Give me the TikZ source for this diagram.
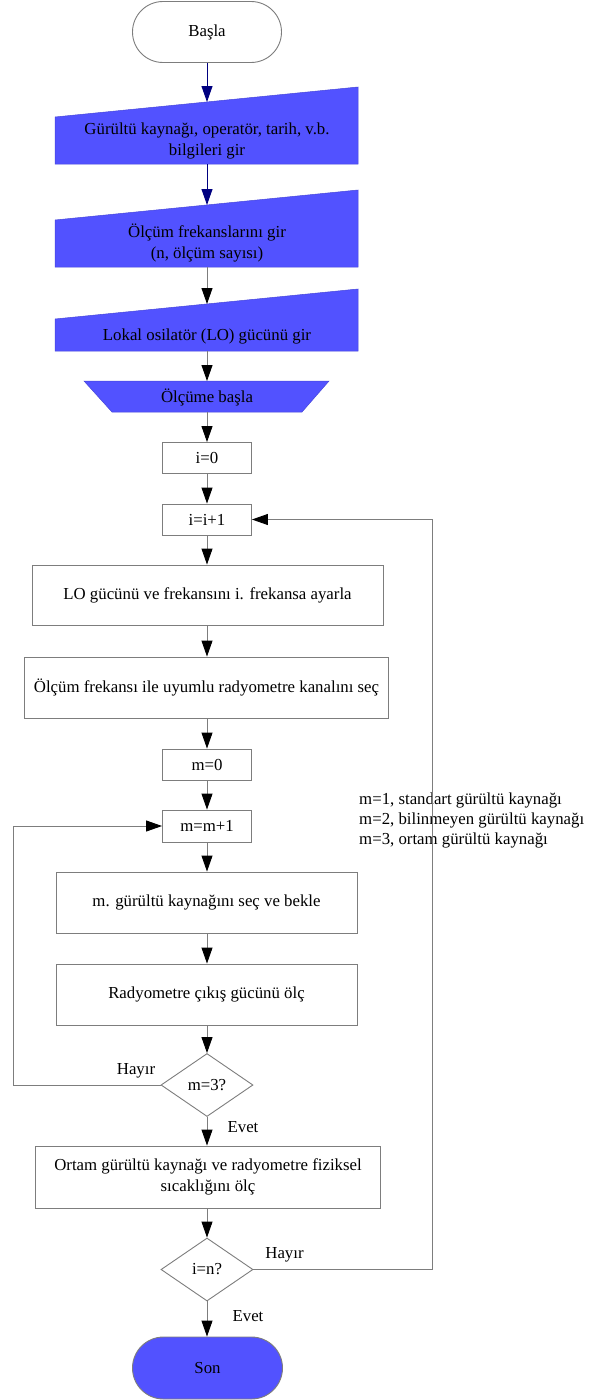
\documentclass[tikz,border=0pt]{standalone}
\usepackage{fontspec}
\setmainfont{Liberation Serif}
\usetikzlibrary{shapes.geometric,shapes.misc,arrows.meta}
\definecolor{flowblue}{RGB}{82,82,255}
\definecolor{edgegray}{RGB}{125,125,125}
\definecolor{darknavy}{RGB}{0,0,128}

\begin{document}
\begin{tikzpicture}[x=1pt,y=-1pt,
  every node/.style={font=\fontsize{16.8}{21}\selectfont, inner sep=0pt, align=center},
  proc/.style={rectangle, draw=edgegray, line width=0.9pt, fill=white},
  term/.style={rounded rectangle, draw=edgegray, line width=0.9pt,
               minimum width=149pt, minimum height=61pt},
  decide/.style={diamond, draw=edgegray, line width=0.9pt, fill=white,
                 minimum width=92pt, minimum height=63pt},
  ioshape/.style={fill=flowblue, draw=flowblue!85!black, line width=0.5pt},
  flow/.style={draw=edgegray, line width=0.9pt,
               -{Triangle[length=16pt,width=11pt,color=black]}},
  navyflow/.style={draw=darknavy, line width=0.9pt,
                   -{Triangle[length=16pt,width=11pt,color=darknavy]}},
  loopline/.style={draw=edgegray, line width=0.9pt,
                   -{Triangle[length=16pt,width=11pt,color=black]}},
  note/.style={anchor=west, align=left, font=\fontsize{16.8}{20}\selectfont},
  answer/.style={font=\fontsize{16.8}{20}\selectfont}
]
\useasboundingbox (0,0) rectangle (595,1400);

% start terminator
\node[term, fill=white] (start) at (207,32) {Başla};

% data-entry blocks (manual input shapes)
\path[ioshape] (55,117) -- (358,87) -- (358,164) -- (55,164) -- cycle;
\node (in1) at (207,141) {Gürültü kaynağı, operatör, tarih, v.b.\\bilgileri gir};
\coordinate (in1top) at (207,102);
\coordinate (in1bot) at (207,164);

\path[ioshape] (55,220) -- (358,190) -- (358,267) -- (55,267) -- cycle;
\node (in2) at (207,243.5) {Ölçüm frekanslarını gir\\(n, ölçüm sayısı)};
\coordinate (in2top) at (207,205);
\coordinate (in2bot) at (207,267);

\path[ioshape] (55,319) -- (358,289) -- (358,351) -- (55,351) -- cycle;
\node (in3) at (207,336) {Lokal osilatör (LO) gücünü gir};
\coordinate (in3top) at (207,304);
\coordinate (in3bot) at (207,351);

% manual operation
\path[ioshape] (84,381) -- (329,381) -- (302,412) -- (112,412) -- cycle;
\node (op) at (207,397) {Ölçüme başla};
\coordinate (optop) at (207,381);
\coordinate (opbot) at (207,412);

% processing steps
\node[proc, minimum width=89pt, minimum height=31pt] (i0) at (207,458) {i=0};
\node[proc, minimum width=89pt, minimum height=31pt] (ii1) at (207,519.5) {i=i+1};
\node[proc, minimum width=351pt, minimum height=60pt] (lo) at (207.5,595) {LO gücünü ve frekansını i. frekansa ayarla};
\node[proc, minimum width=364pt, minimum height=61pt] (ch) at (206.5,687.5) {Ölçüm frekansı ile uyumlu radyometre kanalını seç};
\node[proc, minimum width=89pt, minimum height=31pt] (m0) at (207,764.5) {m=0};
\node[proc, minimum width=89pt, minimum height=32pt] (mm1) at (207,826) {m=m+1};
\node[proc, minimum width=301pt, minimum height=61pt] (sel) at (206.5,902.5) {m. gürültü kaynağını seç ve bekle};
\node[proc, minimum width=301pt, minimum height=61pt] (meas) at (206.5,994.5) {Radyometre çıkış gücünü ölç};
\node[decide] (d1) at (207,1085) {m=3?};
\node[proc, minimum width=345pt, minimum height=62pt] (amb) at (208,1177) {Ortam gürültü kaynağı ve radyometre fiziksel\\sıcaklığını ölç};
\node[decide] (d2) at (207,1269.5) {i=n?};

% end terminator
\node[term, fill=flowblue, minimum width=150pt, minimum height=62pt] (stop) at (207.5,1368) {Son};

% source legend
\node[note] (legend) at (359,820) {m=1, standart gürültü kaynağı\\m=2, bilinmeyen gürültü kaynağı\\m=3, ortam gürültü kaynağı};

% main flow
\draw[navyflow] (start.south) -- (in1top);
\draw[navyflow] (in1bot) -- (in2top);
\draw[flow] (in2bot) -- (in3top);
\draw[flow] (in3bot) -- (optop);
\draw[flow] (opbot) -- (i0.north);
\draw[flow] (i0) -- (ii1);
\draw[flow] (ii1) -- (ii1 |- lo.north);
\draw[flow] (lo.south -| i0) -- (i0 |- ch.north);
\draw[flow] (ch.south -| i0) -- (m0);
\draw[flow] (m0) -- (mm1);
\draw[flow] (mm1) -- (mm1 |- sel.north);
\draw[flow] (sel.south -| mm1) -- (mm1 |- meas.north);
\draw[flow] (meas.south -| mm1) -- (d1);
\draw[flow] (d1) -- (d1 |- amb.north);
\draw[flow] (amb.south -| d1) -- (d2);
\draw[flow] (d2) -- (d2 |- stop.north);

% loops
\coordinate (leftrail) at (13.5,1085);
\coordinate (rightrail) at (432.5,1269.5);
\draw[loopline] (d1.west) -- (leftrail) |- (mm1.west);
\draw[loopline] (d2.east) -- (rightrail) |- (ii1.east);

% branch labels
\node[answer] (no1) at (136,1071) {Hayır};
\node[answer] (yes1) at (243,1127) {Evet};
\node[answer] (no2) at (284.5,1255) {Hayır};
\node[answer] (yes2) at (248,1316) {Evet};
\end{tikzpicture}
\end{document}
